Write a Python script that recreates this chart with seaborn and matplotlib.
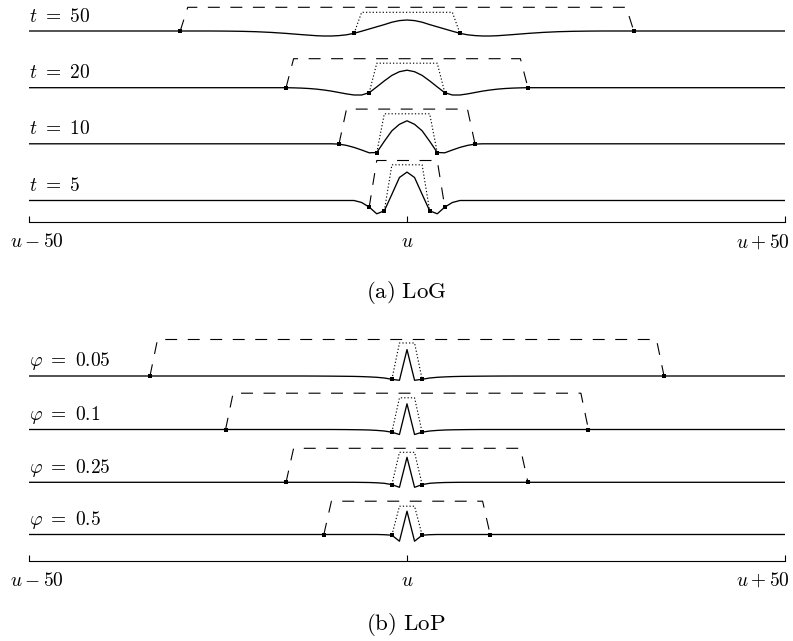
"""
Scale-space responses around a point u: LoG (top) and LoP (bottom).
Draws out.png at 793x641 px.
"""

import matplotlib
matplotlib.use("Agg")
import matplotlib.pyplot as plt
import matplotlib.transforms as mtransforms
import numpy as np
import seaborn as sns

sns.set_theme(style="white")
plt.rcParams["mathtext.fontset"] = "cm"
plt.rcParams["lines.scale_dashes"] = False

# ---- data (curve heights in px above the row baseline, x in units around u) ----
LOG_LABELS = [r"$t\ =\ 50$", r"$t\ =\ 20$", r"$t\ =\ 10$", r"$t\ =\ 5$"]

LOG_X_50 = [-50, -26, -24, -22, -20, -18, -16, -14, -12, -11, -10, -9, -8, -7, -6, -5, -4, -3, -2, -1,
            0, 1, 2, 3, 4, 5, 6, 7, 8, 9, 10, 11, 12, 14, 16, 18, 20, 22, 24, 26, 50]
LOG_Y_50 = [0, 0, -0.1, -0.3, -0.7, -1.4, -2.4, -3.6, -4.7, -5.0, -5.0, -4.6, -3.8, -2.3, -0.2, 2.0, 4.2, 6.4, 8.8, 10.4,
            11.0, 10.4, 8.8, 6.4, 4.2, 2.0, -0.2, -2.3, -3.8, -4.6, -5.0, -5.0, -4.7, -3.6, -2.4, -1.4, -0.7, -0.3, -0.1, 0, 0]

LOG_X_20 = [-50, -16, -15, -14, -13, -12, -11, -10, -9, -8, -7, -6, -5, -4, -3, -2, -1,
            0, 1, 2, 3, 4, 5, 6, 7, 8, 9, 10, 11, 12, 13, 14, 15, 16, 50]
LOG_Y_20 = [0, 0, -0.15, -0.4, -0.8, -1.4, -2.3, -3.4, -4.8, -6.2, -7.3, -7.3, -5.0, 0.8, 6.8, 12.3, 16.0,
            17.5, 16.0, 12.3, 6.8, 0.8, -5.0, -7.3, -7.3, -6.2, -4.8, -3.4, -2.3, -1.4, -0.8, -0.4, -0.15, 0, 0]

LOG_X_10 = [-50, -10, -9, -8, -7, -6, -5, -4, -3, -2, -1, 0, 1, 2, 3, 4, 5, 6, 7, 8, 9, 10, 50]
LOG_Y_10 = [0, 0, -0.3, -1.6, -3.6, -6.2, -9.0, -8.7, 2.5, 13.0, 19.5, 23.0,
            19.5, 13.0, 2.5, -8.7, -9.0, -6.2, -3.6, -1.6, -0.3, 0, 0]

LOG_X_5 = [-50, -7, -6, -5, -4, -3, -2, -1, 0, 1, 2, 3, 4, 5, 6, 7, 50]
LOG_Y_5 = [0, 0, -2.0, -6.6, -13.3, -10.3, 6.2, 23.0, 28.4, 23.0, 6.2, -10.3, -13.3, -6.6, -2.0, 0, 0]

LOG_OUTER = [30, 16, 9, 5]
LOG_INNER = [7, 5, 4, 3]
LOG_DASH_TOP = [23.7, 29.0, 34.7, 40.0]
LOG_DOT_TOP = [18.7, 24.5, 30.0, 35.7]

LOP_LABELS = [r"$\varphi\ =\ 0.05$", r"$\varphi\ =\ 0.1$", r"$\varphi\ =\ 0.25$", r"$\varphi\ =\ 0.5$"]

LOP_X_005 = [-50, -14, -12, -10, -8, -7, -6, -5, -4, -3, -2, -1, 0, 1, 2, 3, 4, 5, 6, 7, 8, 10, 12, 14, 50]
LOP_Y_005 = [0, 0, -0.05, -0.15, -0.3, -0.4, -0.6, -0.9, -1.3, -2.0, -3.3, -4.3, 26.4,
             -4.3, -3.3, -2.0, -1.3, -0.9, -0.6, -0.4, -0.3, -0.15, -0.05, 0, 0]

LOP_X_01 = [-50, -10, -8, -6, -5, -4, -3, -2, -1, 0, 1, 2, 3, 4, 5, 6, 8, 10, 50]
LOP_Y_01 = [0, 0, -0.1, -0.3, -0.5, -0.9, -1.5, -2.7, -5.0, 25.7, -5.0, -2.7, -1.5, -0.9, -0.5, -0.3, -0.1, 0, 0]

LOP_X_025 = [-50, -7, -5, -4, -3, -2, -1, 0, 1, 2, 3, 4, 5, 7, 50]
LOP_Y_025 = [0, 0, -0.2, -0.5, -1.0, -2.3, -5.0, 25.0, -5.0, -2.3, -1.0, -0.5, -0.2, 0, 0]

LOP_X_05 = [-50, -4, -3, -2, -1, 0, 1, 2, 3, 4, 50]
LOP_Y_05 = [0, 0, -0.2, -0.7, -6.7, 23.3, -6.7, -0.7, -0.2, 0, 0]

LOP_OUTER = [34, 24, 16, 11]
LOP_INNER = [2, 2, 2, 2]
LOP_DASH_TOP = [36.5, 36.3, 34.0, 33.3]
LOP_DOT_TOP = [33.0, 31.7, 30.0, 28.3]

TICKS = [-50, 0, 50]
TICK_LABELS = [r"$u - 50$", r"$u$", r"$u + 50$"]
CAPTIONS = [r"$\mathrm{(a)\ LoG}$", r"$\mathrm{(b)\ LoP}$"]

# ---- layout (pixels) ----
FIG_W, FIG_H = 793, 641
X0_PX, X1_PX = 29, 785
ROW_BELOW, ROW_ABOVE = 20, 50
LOG_BASE_PX = [31, 87.7, 143.8, 200.5]
LOP_BASE_PX = [376, 429.5, 482.3, 534.5]
AXIS_PX = [222.3, 560.5]
CAPTION_PX = [292, 624]
LABEL_SHIFT_PX = [8, 0, -22]
FS = 14
FS_CAPTION = 16.5


def add_row_axes(fig, base_px):
    bottom = 1 - (base_px + ROW_BELOW) / FIG_H
    ax = fig.add_axes([X0_PX / FIG_W, bottom, (X1_PX - X0_PX) / FIG_W,
                       (ROW_BELOW + ROW_ABOVE) / FIG_H])
    ax.set_xlim(-50, 50)
    ax.set_ylim(-ROW_BELOW, ROW_ABOVE)
    ax.axis("off")
    return ax


def draw_row(ax, label, xs, ys, outer, inner, dash_top, dot_top):
    sns.lineplot(x=xs, y=ys, ax=ax, color="black", lw=0.95, estimator=None, sort=False)

    # marker heights sit on the curve
    yo = np.interp([-outer, outer], xs, ys)
    yi = np.interp([-inner, inner], xs, ys)

    sns.lineplot(x=[-outer, -outer + 1, outer - 1, outer], y=[yo[0], dash_top, dash_top, yo[1]],
                 ax=ax, color="black", lw=0.8, linestyle=(0, (8.6, 7.6)), estimator=None, sort=False)
    sns.lineplot(x=[-inner, -inner + 1, inner - 1, inner], y=[yi[0], dot_top, dot_top, yi[1]],
                 ax=ax, color="black", lw=0.8, linestyle=(0, (0.9, 1.5)), estimator=None, sort=False)

    sns.scatterplot(x=[-outer, -inner, inner, outer], y=[yo[0], yi[0], yi[1], yo[1]], ax=ax,
                    marker="s", s=9, color="black", linewidth=0, zorder=5)

    ax.text(-50, 9.5, label, ha="left", va="baseline", fontsize=FS, color="black")


def add_scale(fig, axis_px, caption_px, caption):
    h = 10
    ax = fig.add_axes([X0_PX / FIG_W, 1 - axis_px / FIG_H, (X1_PX - X0_PX) / FIG_W, h / FIG_H])
    ax.set_xlim(-50, 50)
    ax.set_ylim(0, 1)
    ax.patch.set_alpha(0)
    for side in ["top", "left", "right"]:
        ax.spines[side].set_visible(False)
    ax.spines["bottom"].set_color("black")
    ax.spines["bottom"].set_linewidth(0.8)
    ax.set_yticks([])
    ax.set_xticks(TICKS)
    ax.set_xticklabels([])
    ax.tick_params(axis="x", direction="in", length=4.5, width=0.8, color="black", bottom=True)

    blend = mtransforms.blended_transform_factory(ax.transData, ax.transAxes)
    for pos, lab, shift in zip(TICKS, TICK_LABELS, LABEL_SHIFT_PX):
        off = mtransforms.ScaledTranslation(shift / 100, -25 / 100, fig.dpi_scale_trans)
        ax.text(pos, 0, lab, transform=blend + off, ha="center", va="baseline",
                fontsize=FS, color="black")

    fig.text(406 / FIG_W, 1 - caption_px / FIG_H, caption, ha="center", va="center",
             fontsize=FS_CAPTION, color="black")


def main():
    fig = plt.figure(figsize=(FIG_W / 100, FIG_H / 100), dpi=100)
    fig.patch.set_facecolor("white")

    log_x = [LOG_X_50, LOG_X_20, LOG_X_10, LOG_X_5]
    log_y = [LOG_Y_50, LOG_Y_20, LOG_Y_10, LOG_Y_5]
    for i, base in enumerate(LOG_BASE_PX):
        ax = add_row_axes(fig, base)
        draw_row(ax, LOG_LABELS[i], log_x[i], log_y[i], LOG_OUTER[i], LOG_INNER[i],
                 LOG_DASH_TOP[i], LOG_DOT_TOP[i])

    lop_x = [LOP_X_005, LOP_X_01, LOP_X_025, LOP_X_05]
    lop_y = [LOP_Y_005, LOP_Y_01, LOP_Y_025, LOP_Y_05]
    for i, base in enumerate(LOP_BASE_PX):
        ax = add_row_axes(fig, base)
        draw_row(ax, LOP_LABELS[i], lop_x[i], lop_y[i], LOP_OUTER[i], LOP_INNER[i],
                 LOP_DASH_TOP[i], LOP_DOT_TOP[i])

    for axis_px, cap_px, cap in zip(AXIS_PX, CAPTION_PX, CAPTIONS):
        add_scale(fig, axis_px, cap_px, cap)

    fig.savefig("out.png", dpi=100)
    plt.close(fig)


if __name__ == "__main__":
    main()
